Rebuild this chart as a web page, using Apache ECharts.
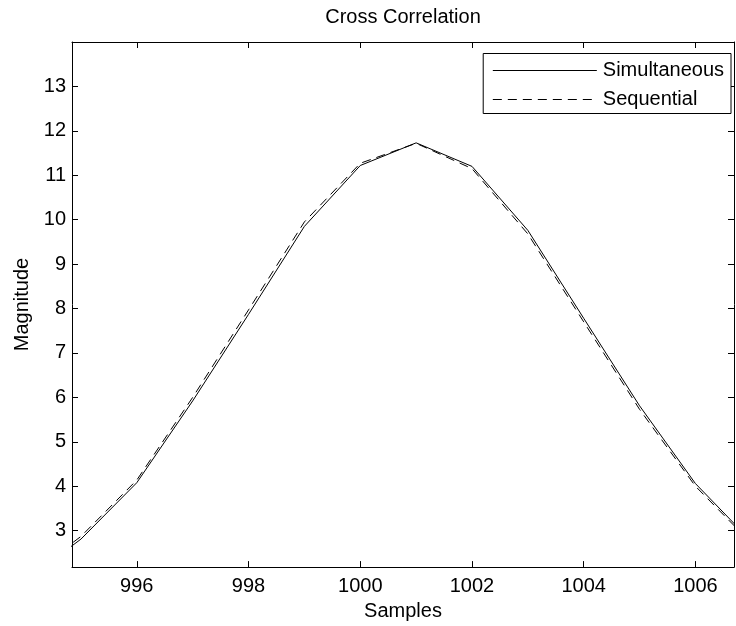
<!DOCTYPE html>
<html>
<head>
<meta charset="utf-8">
<script src="https://cdn.jsdelivr.net/npm/echarts@6/dist/echarts.min.js"></script>
<style>html,body{margin:0;padding:0;background:#fff}#c{width:736px;height:626px}</style>
</head>
<body>
<div id="c"></div>
<script>
const samples = [994, 995, 996, 997, 998, 999, 1000, 1001, 1002, 1003, 1004, 1005, 1006, 1007];
const simultaneous = [1.87, 2.81, 4.08, 5.92, 7.87, 9.85, 11.22, 11.73, 11.20, 9.76, 7.78, 5.81, 4.06, 2.76];
const sequential = [1.93, 2.87, 4.14, 6.00, 7.97, 9.95, 11.27, 11.72, 11.15, 9.68, 7.70, 5.73, 4.00, 2.72];
const xTicks = [996, 998, 1000, 1002, 1004, 1006];
const yTicks = [3, 4, 5, 6, 7, 8, 9, 10, 11, 12, 13];
const seriesNames = ['Simultaneous', 'Sequential'];
const titleText = 'Cross Correlation';

const FONT = 'Liberation Sans, Arial, Helvetica, sans-serif';
const FS = 20;
const GRID = {left: 72, right: 2, top: 42, bottom: 56};
const plotCenterX = GRID.left + (736 - GRID.left - GRID.right) / 2;

const cv = document.createElement('canvas').getContext('2d');
cv.font = FS + 'px ' + FONT;
const titleW = cv.measureText(titleText).width;

const chart = echarts.init(document.getElementById('c'), null, {renderer: 'canvas'});
const txt = {color: '#000', fontSize: FS, fontFamily: FONT};
const fmt = (v) => String(v);
const axisBase = (extra) => Object.assign({
  type: 'value',
  axisLine: {show: true, onZero: false, lineStyle: {color: '#000', width: 1}},
  splitLine: {show: false}
}, extra);

const xmin = 994.84, xmax = 1006.69, ymin = 2.18, ymax = 14;
const DASH = [9, 6];

const option = {
  animation: false,
  backgroundColor: '#fff',
  title: {
    text: titleText, left: plotCenterX - titleW / 2, top: 7,
    padding: 0,
    textStyle: Object.assign({fontWeight: 'normal'}, txt)
  },
  grid: Object.assign({containLabel: false}, GRID),
  legend: {
    data: seriesNames,
    orient: 'vertical',
    right: 5, top: 53.5,
    backgroundColor: '#fff',
    borderColor: '#000', borderWidth: 1,
    padding: [7, 7, 4, 9],
    itemWidth: 104, itemHeight: 20, itemGap: 9,
    itemStyle: {color: 'rgba(0,0,0,0)', borderColor: 'rgba(0,0,0,0)', borderWidth: 0, opacity: 0},
    lineStyle: {width: 1.2, color: '#000'},
    textStyle: Object.assign({padding: [0, 0, 0, 1], lineHeight: 20}, txt)
  },
  xAxis: [
    axisBase({
      min: xmin, max: xmax, position: 'bottom',
      axisTick: {show: true, inside: true, length: 6, customValues: xTicks, lineStyle: {color: '#000'}},
      axisLabel: Object.assign({show: true, customValues: xTicks, margin: 9, formatter: fmt}, txt),
      name: 'Samples', nameLocation: 'middle', nameGap: 32, nameTextStyle: txt
    }),
    axisBase({
      min: xmin, max: xmax, position: 'top',
      axisTick: {show: true, inside: true, length: 6, customValues: xTicks, lineStyle: {color: '#000'}},
      axisLabel: {show: false}
    })
  ],
  yAxis: [
    axisBase({
      min: ymin, max: ymax, position: 'left',
      axisTick: {show: true, inside: true, length: 6, customValues: yTicks, lineStyle: {color: '#000'}},
      axisLabel: Object.assign({show: true, customValues: yTicks, margin: 6, formatter: fmt}, txt),
      name: 'Magnitude', nameLocation: 'middle', nameGap: 40, nameRotate: 90, nameTextStyle: txt
    }),
    axisBase({
      min: ymin, max: ymax, position: 'right',
      axisTick: {show: true, inside: true, length: 6, customValues: yTicks, lineStyle: {color: '#000'}},
      axisLabel: {show: false}
    })
  ],
  series: [
    {
      name: seriesNames[0], type: 'line', symbol: 'none', clip: true,
      data: samples.map((x, i) => [x, simultaneous[i]]),
      lineStyle: {color: '#000', width: 1, type: 'solid'},
      itemStyle: {color: '#000'}
    },
    {
      name: seriesNames[1], type: 'line', symbol: 'none', clip: true,
      data: samples.map((x, i) => [x, sequential[i]]),
      lineStyle: {color: '#000', width: 1, type: DASH},
      itemStyle: {color: '#000'}
    }
  ]
};
chart.setOption(option);
</script>
</body>
</html>
